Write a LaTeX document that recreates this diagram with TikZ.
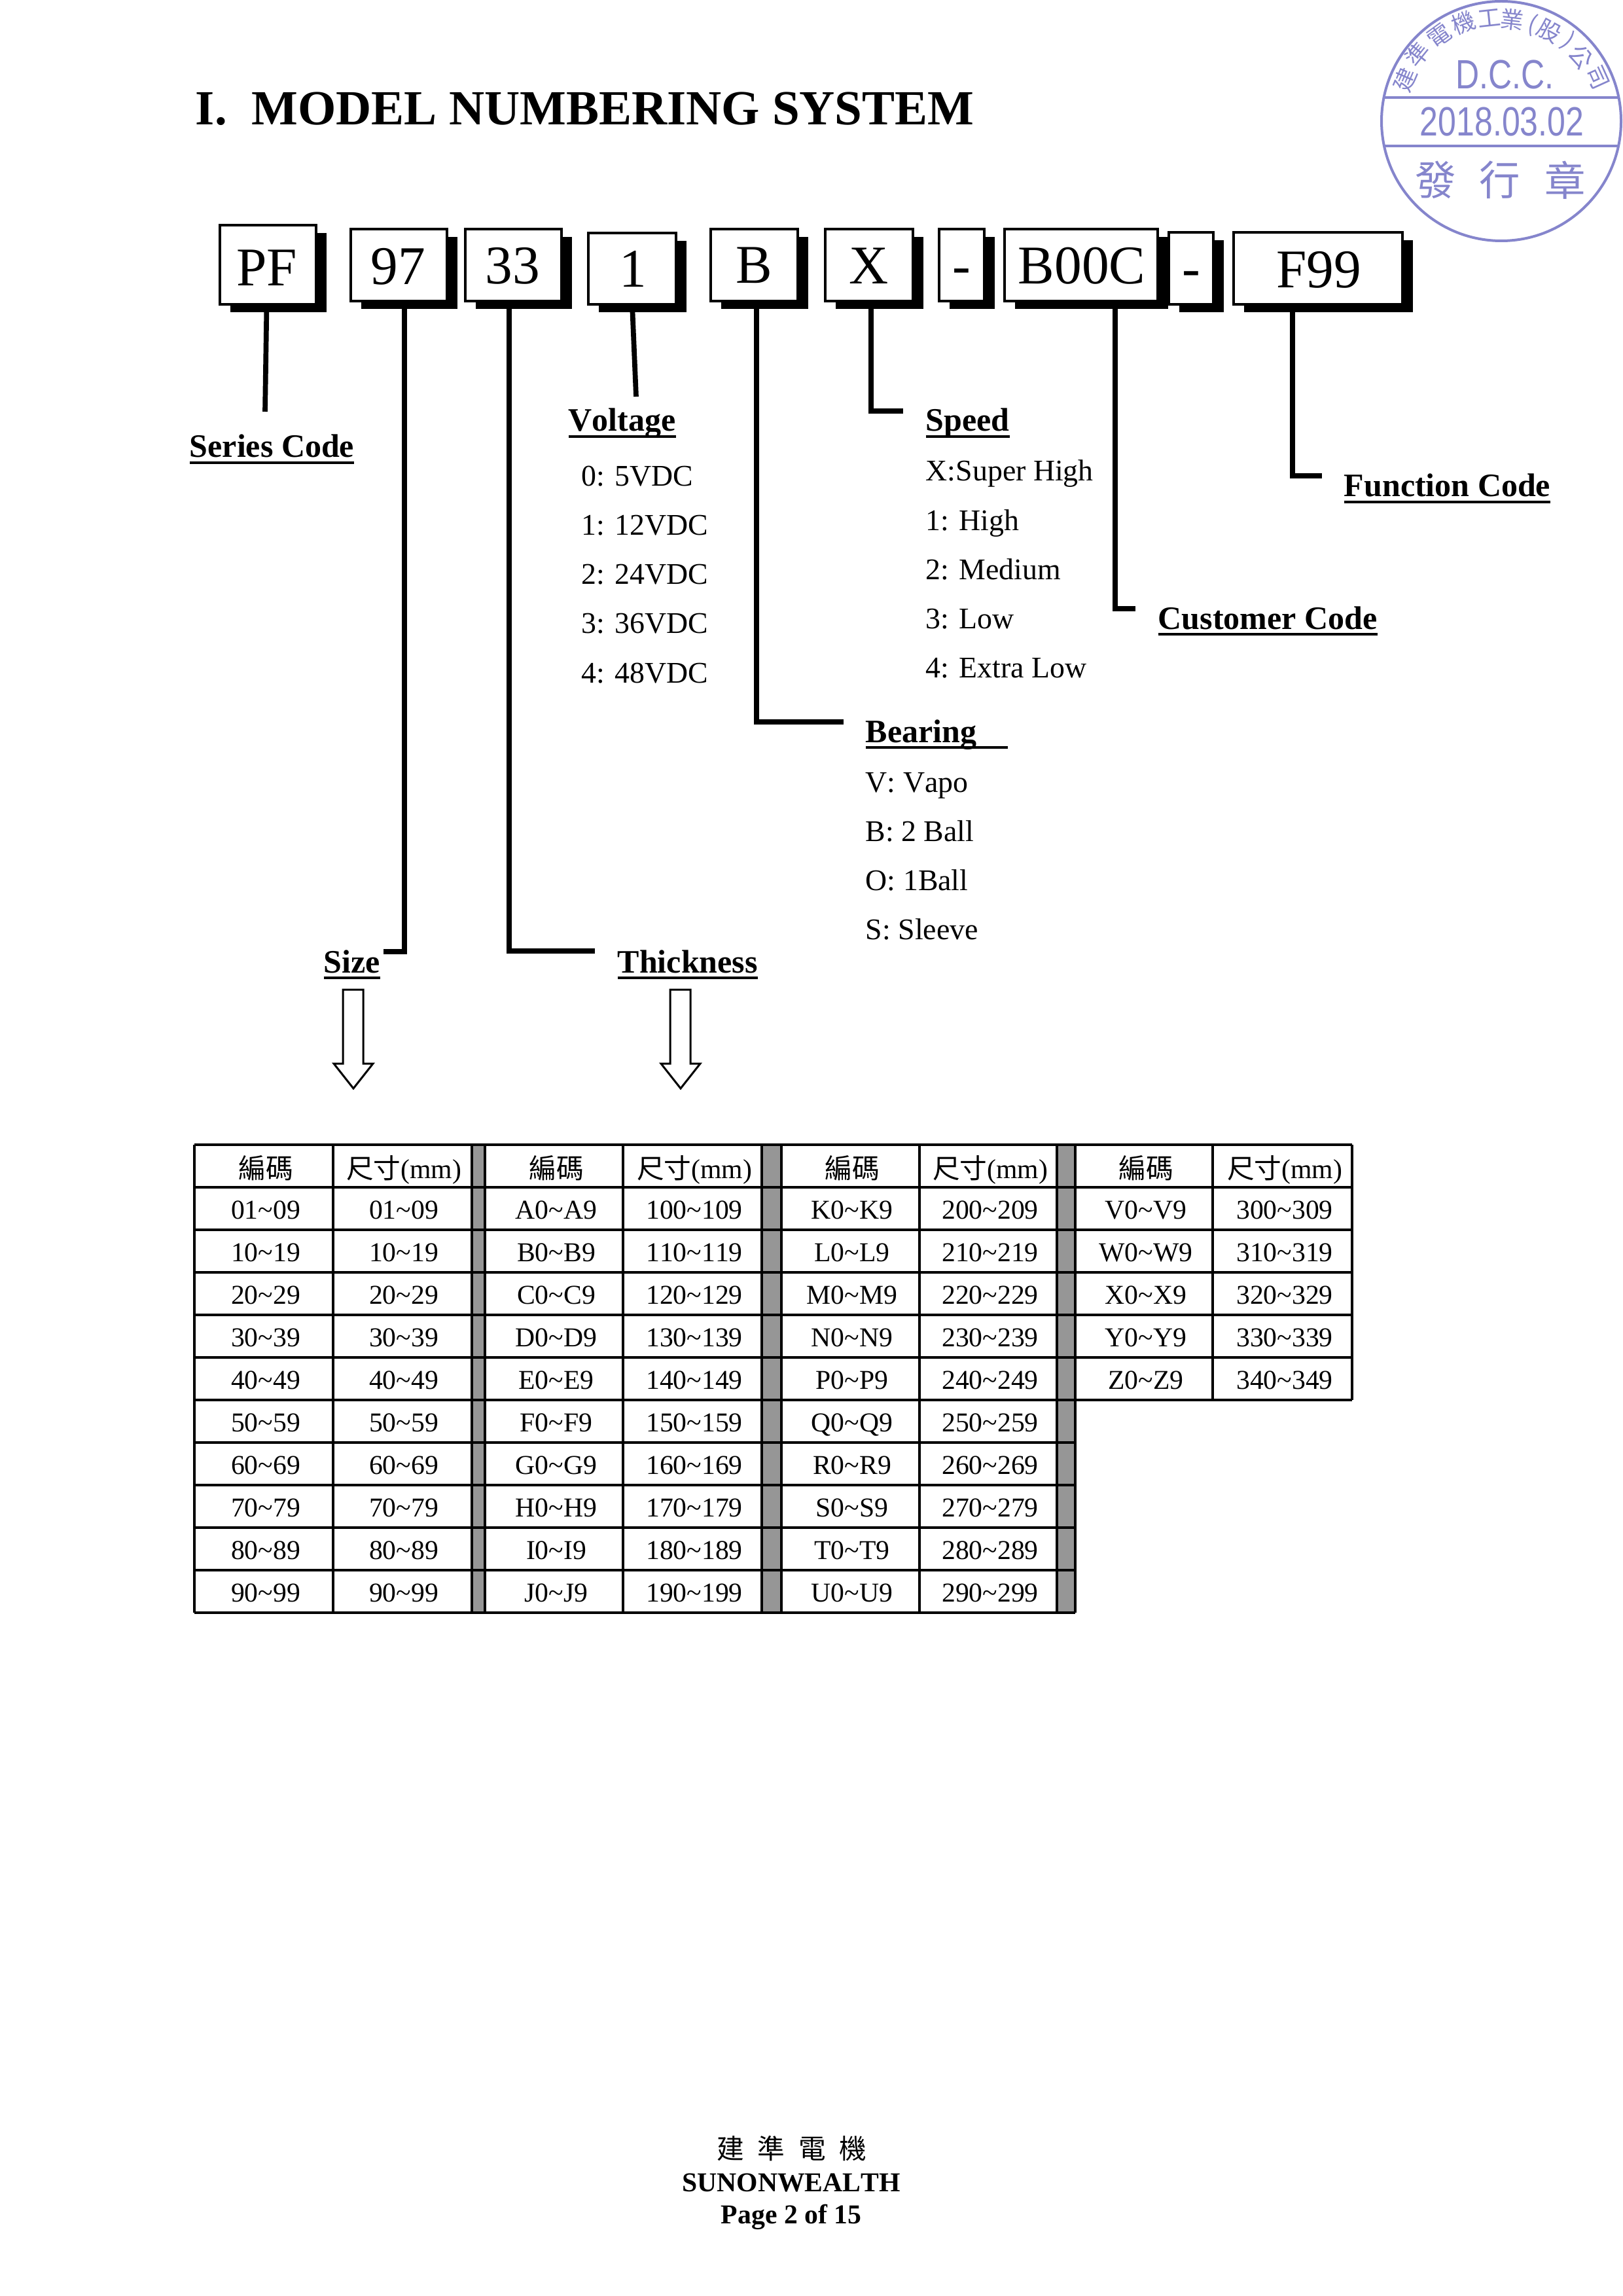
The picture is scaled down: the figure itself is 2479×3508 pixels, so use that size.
\documentclass[tikz,border=0pt]{standalone}
\usepackage{fontspec}
\setmainfont[Kerning=Off]{Liberation Serif}
\newfontfamily\cjk{Noto Sans CJK TC}
\newfontfamily\stampf{Liberation Sans}
\usetikzlibrary{shadows,calc}
\definecolor{stampc}{HTML}{8585CC}
\definecolor{colgray}{HTML}{969696}
\newcommand\tld{\textasciitilde}
\newcommand\ulab[1]{\setbox0=\hbox{#1}\rlap{\rule[-2.4pt]{\wd0}{0.96pt}}\box0}
\newcommand\codebox[5]{%
  \pgfmathsetmacro\bw{(#4-#2-4)*0.24}%
  \pgfmathsetmacro\bh{(#5-#3-4)*0.24}%
  \node[cbox,minimum width=\bw pt,minimum height=\bh pt] (#1) at ({(#2+#4)/2},{(#3+#5)/2}) {};}
\tikzset{
  x=0.24pt,y=-0.24pt,
  cbox/.style={draw=black,fill=white,line width=0.96pt,inner sep=0,outer sep=0,
    drop shadow={shadow xshift=3.84pt,shadow yshift=-2.9pt,fill=black,opacity=1}},
  ctext/.style={font=\fontsize{20}{24}\selectfont,anchor=base,inner sep=0},
  leader/.style={draw=black,line width=1.85pt},
  lbl/.style={font=\fontsize{12}{14}\selectfont\bfseries,anchor=base west,inner sep=0},
  item/.style={font=\fontsize{11}{13}\selectfont,anchor=base west,inner sep=0},
  cell/.style={font=\fontsize{10}{12}\selectfont,anchor=base,inner sep=0},
  grid/.style={draw=black,line width=0.84pt},
  hollow/.style={draw=black,fill=white,line width=0.72pt,miter limit=10},
  foot/.style={font=\fontsize{10}{12}\selectfont\bfseries,anchor=base,inner sep=0},
  stampline/.style={draw=stampc,line width=0.96pt},
  arcch/.style={font=\cjk\fontsize{8.5}{9}\selectfont,text=stampc,inner sep=0},
  bigch/.style={font=\cjk\fontsize{15}{16}\selectfont,text=stampc,inner sep=0},
  stamptxt/.style={font=\stampf\fontsize{15}{16}\selectfont,text=stampc,anchor=base,inner sep=0,xscale=0.8},
}
\begin{document}
\begin{tikzpicture}
\useasboundingbox (0,0) rectangle (2479,3508);
\fill[white] (0,0) rectangle (2479,3508);
% title
\node[font=\fontsize{18}{22}\selectfont\bfseries,anchor=base west,inner sep=0] (title) at (298,191) {I.\ \ MODEL NUMBERING SYSTEM};
% code boxes
\codebox{bPF}{334}{342}{485}{467}
\codebox{bNN}{534}{348}{685}{462}
\codebox{bTT}{709}{348}{860}{462}
\codebox{bV}{897}{354}{1035}{467}
\codebox{bB}{1084}{348}{1221}{462}
\codebox{bX}{1259}{348}{1397}{462}
\codebox{bDa}{1433}{348}{1506}{462}
\codebox{bC}{1533}{348}{1771}{462}
\codebox{bDb}{1784}{353}{1856}{467}
\codebox{bF}{1883}{353}{2145}{467}
\node[ctext] (tPF) at (408,437) {PF};
\node[ctext] (tNN) at (608,435) {97};
\node[ctext] (tTT) at (783,434) {33};
\node[ctext] (tV) at (967,439) {1};
\node[ctext] (tB) at (1152,433) {B};
\node[ctext] (tX) at (1328,434) {X};
\node[ctext] (tDa) at (1469,434) {-};
\node[ctext] (tC) at (1653,434) {B00C};
\node[ctext] (tDb) at (1820,438) {-};
\node[ctext] (tF) at (2015,440) {F99};
% connector ends
\coordinate (ePF) at (405,629);
\coordinate (eV) at (972,606);
\coordinate (jNN) at (618,1454);
\coordinate (eNN) at (586,1454);
\coordinate (jTT) at (778,1453);
\coordinate (eTT) at (909,1453);
\coordinate (jB) at (1156,1103);
\coordinate (eB) at (1289,1103);
\coordinate (jX) at (1331,628);
\coordinate (eX) at (1380,628);
\coordinate (jC) at (1704,930);
\coordinate (eC) at (1735,930);
\coordinate (jF) at (1975,727);
\coordinate (eF) at (2020,727);
\draw[leader] ($(bPF.south)+(-2,0)$) -- (ePF);
\draw[leader] (bV.south) -- (eV);
\draw[leader] (bNN.south -| jNN) -- (jNN) -- (eNN);
\draw[leader] (bTT.south -| jTT) -- (jTT) -- (eTT);
\draw[leader] (bB.south -| jB) -- (jB) -- (eB);
\draw[leader] (bX.south -| jX) -- (jX) -- (eX);
\draw[leader] (bC.south -| jC) -- (jC) -- (eC);
\draw[leader] (bF.south -| jF) -- (jF) -- (eF);
% labels
\node[lbl] (lSeries) at (289,699) {\ulab{Series Code}};
\node[lbl] (lVolt) at (868,659) {\ulab{Voltage}};
\node[lbl] (lSpeed) at (1414,659) {\ulab{Speed}};
\node[lbl] (lFunc) at (2053,759) {\ulab{Function Code}};
\node[lbl] (lCust) at (1769,961) {\ulab{Customer Code}};
\node[lbl] (lBear) at (1322,1134) {\ulab{Bearing\hspace{11.5pt}}};
\node[lbl] (lSize) at (494,1486) {\ulab{Size}};
\node[lbl] (lThick) at (943,1486) {\ulab{Thickness}};
% lists
\foreach \t [count=\i from 0] in {0: 5VDC,1: 12VDC,2: 24VDC,3: 36VDC,4: 48VDC}
  \node[item] (v\i) at (888,{743+75*\i}) {\t};
\foreach \t [count=\i from 0] in {X:Super High,1: High,2: Medium,3: Low,4: Extra Low}
  \node[item] (s\i) at (1414,{735+75.2*\i}) {\t};
\foreach \t [count=\i from 0] in {V: Vapo,B: 2 Ball,O: 1Ball,S: Sleeve}
  \node[item] (r\i) at (1322,{1210+75.2*\i}) {\t};
% hollow arrows
\draw[hollow] (524,1512) -- (555,1512) -- (555,1625) -- (570,1625) -- (540,1663) -- (510,1625) -- (524,1625) -- cycle;
\draw[hollow] (1024,1512) -- (1055,1512) -- (1055,1625) -- (1070,1625) -- (1040,1663) -- (1010,1625) -- (1024,1625) -- cycle;
% table
\fill[colgray] (721,1749) rectangle (741,2464);
\fill[colgray] (1164,1749) rectangle (1194,2464);
\fill[colgray] (1615,1749) rectangle (1643,2464);
\foreach \yy in {1749,1814,1879,1944,2009,2074,2139}
  \draw[grid] (297,\yy) -- (2066,\yy);
\foreach \yy in {2204,2269,2334,2399,2464}
  \draw[grid] (297,\yy) -- (1643,\yy);
\foreach \xx in {297,509,721,741,952,1164,1194,1405,1615,1643}
  \draw[grid] (\xx,1749) -- (\xx,2464);
\foreach \xx in {1853,2066}
  \draw[grid] (\xx,1749) -- (\xx,2139);
\foreach \cx/\mx [count=\k] in {406/617,850/1061,1302/1513,1751/1963}{
  \node[cell] (hc\k) at (\cx,1800) {\cjk 編碼};
  \node[cell] (hm\k) at (\mx,1800) {{\cjk 尺寸}(mm)};
}
\foreach \a/\b [count=\i from 0] in {01/09,10/19,20/29,30/39,40/49,50/59,60/69,70/79,80/89,90/99}{
  \node[cell] (ca\i) at (406,{1862+65*\i}) {\a\tld\b};
  \node[cell] (ma\i) at (617,{1862+65*\i}) {\a\tld\b};
}
\foreach \cols/\base/\cx/\mx [count=\q] in {{A,B,C,D,E,F,G,H,I,J}/100/850/1061,{K,L,M,N,P,Q,R,S,T,U}/200/1302/1513,{V,W,X,Y,Z}/300/1751/1963}{
  \foreach \Lt [count=\i from 0] in \cols {
    \pgfmathtruncatemacro\lo{\base+10*\i}
    \pgfmathtruncatemacro\hi{\lo+9}
    \node[cell] (c\q x\i) at (\cx,{1862+65*\i}) {\Lt0\tld\Lt9};
    \node[cell] (m\q x\i) at (\mx,{1862+65*\i}) {\lo\tld\hi};
  }
}
% footer
\node[cell,font=\cjk\fontsize{10}{12}\selectfont] (f1) at (1210,3298) {建\hspace{.5em}準\hspace{.5em}電\hspace{.5em}機};
\node[foot] (f2) at (1209,3348) {SUNONWEALTH};
\node[foot] (f3) at (1209,3397) {Page 2 of 15};
% stamp
\draw[stampline] (2294,185) circle[radius=183];
\draw[stampline] (2114,149) -- (2474,149);
\draw[stampline] (2114,223) -- (2474,223);
\node[stamptxt] (sD) at (2299,136) {D.C.C.};
\node[stamptxt] (sT) at (2295,208) {2018.03.02};
\node[bigch] (s1) at (2194,275) {發};
\node[bigch] (s2) at (2292,275) {行};
\node[bigch] (s3) at (2392,275) {章};
\node[arcch,rotate=66.7] (a1) at (2147,122) {建};
\node[arcch,rotate=51.2] (a2) at (2166,83) {準};
\node[arcch,rotate=35.9] (a3) at (2199,55) {電};
\node[arcch,rotate=20.8] (a4) at (2236,35) {機};
\node[arcch,rotate=6.2] (a5) at (2276,28) {工};
\node[arcch,rotate=-6.6] (a6) at (2311,30) {業};
\node[arcch,rotate=-18.4] (a7) at (2342,38) {(};
\node[arcch,rotate=-28.4] (a8) at (2367,48) {股};
\node[arcch,rotate=-40.2] (a9) at (2396,63) {)};
\node[arcch,rotate=-51.5] (a10) at (2416,87) {公};
\node[arcch,rotate=-65.6] (a11) at (2441,118) {司};
\end{tikzpicture}
\end{document}
